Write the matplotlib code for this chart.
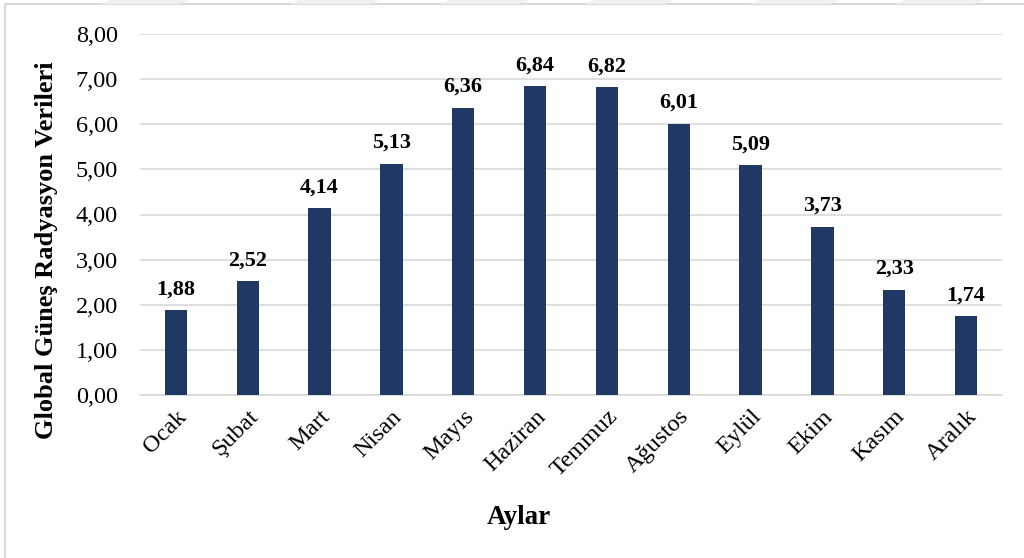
import matplotlib
matplotlib.use("Agg")
import matplotlib.pyplot as plt
from matplotlib.patches import Polygon, Rectangle

months = ["Ocak", "Şubat", "Mart", "Nisan", "Mayıs", "Haziran",
          "Temmuz", "Ağustos", "Eylül", "Ekim", "Kasım", "Aralık"]
radiation = [1.88, 2.52, 4.14, 5.13, 6.36, 6.84, 6.82, 6.01, 5.09, 3.73, 2.33, 1.74]
y_ticks = [0, 1, 2, 3, 4, 5, 6, 7, 8]

plt.rcParams["font.family"] = ["Liberation Serif", "DejaVu Serif"]

W, H = 1024, 558
fig = plt.figure(figsize=(W / 100, H / 100), dpi=100)
ax = fig.add_axes([140 / W, 1 - 395 / H, 862 / W, (395 - 34) / H])

bar_color = "#203864"
x = list(range(len(months)))
ax.bar(x, radiation, width=0.31, color=bar_color, zorder=3)

for xi, v in zip(x, radiation):
    ax.annotate(f"{v:.2f}".replace(".", ","), (xi, v), xytext=(0, 11.5),
                textcoords="offset points", ha="center", va="baseline",
                fontsize=16, fontweight="bold", color="black")

ax.set_xlim(-0.5, len(months) - 0.5)
ax.set_ylim(0, 8)
ax.set_yticks(y_ticks)
ax.set_yticklabels([f"{t:.2f}".replace(".", ",") for t in y_ticks], fontsize=17.5)
ax.set_xticks(x)
ax.set_xticklabels(months, rotation=45, ha="right", rotation_mode="anchor", fontsize=17.5)
ax.tick_params(axis="both", length=0)
ax.tick_params(axis="y", pad=16)
ax.tick_params(axis="x", pad=8)

ax.grid(axis="y", color="#d9d9d9", linewidth=1.2, zorder=0)
for s in ["top", "right", "left"]:
    ax.spines[s].set_visible(False)
ax.spines["bottom"].set_color("#d9d9d9")
ax.spines["bottom"].set_linewidth(1.2)

fig.text(47 / W, 1 - 250 / H, "Global Güneş Radyasyon Verileri", rotation=90,
         ha="center", va="center", fontsize=19, fontweight="bold")
fig.text(519 / W, 1 - 518 / H, "Aylar", ha="center", va="center",
         fontsize=19.5, fontweight="bold")

# outer frame (top and left edges visible)
fig.add_artist(Rectangle((5 / W, -0.1), 1.2, 1.1 - 4 / H, transform=fig.transFigure,
                         fill=False, edgecolor="#d9d9d9", linewidth=1.5))

# faint slanted marks along the upper edge
for cx in [140, 330, 480, 625, 790, 935]:
    pts = [((cx - 40) / W, 1 - 4 / H), ((cx + 40) / W, 1 - 4 / H),
           ((cx + 50) / W, 1.0), ((cx - 30) / W, 1.0)]
    fig.add_artist(Polygon(pts, closed=True, transform=fig.transFigure,
                           facecolor="#f0f0f0", edgecolor="none"))

fig.savefig("out.png", dpi=100)
